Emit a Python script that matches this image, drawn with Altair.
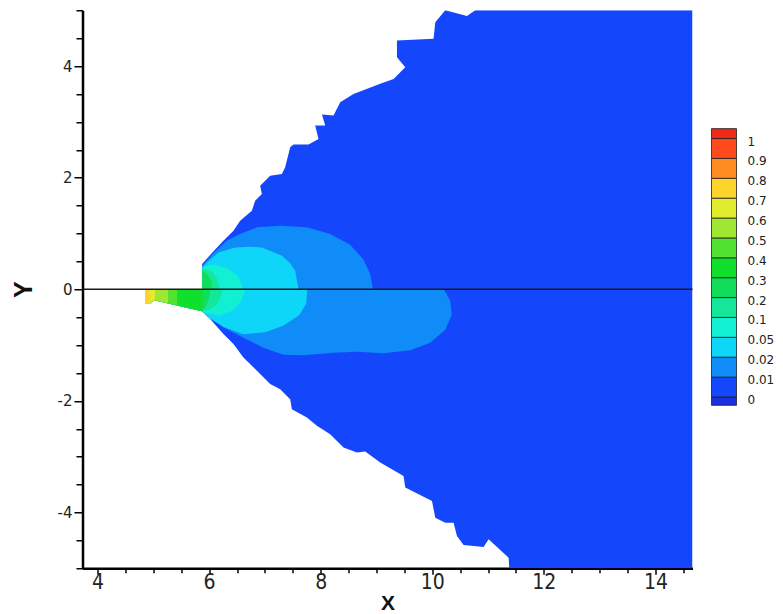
import altair as alt
import pandas as pd

# ---------------- axis ticks ----------------
X_TICKS = [4.0, 4.5, 5.0, 5.5, 6.0, 6.5, 7.0, 7.5, 8.0, 8.5, 9.0, 9.5, 10.0, 10.5,
           11.0, 11.5, 12.0, 12.5, 13.0, 13.5, 14.0, 14.5]
Y_TICKS = [-5.0, -4.5, -4.0, -3.5, -3.0, -2.5, -2.0, -1.5, -1.0, -0.5, 0.0,
           0.5, 1.0, 1.5, 2.0, 2.5, 3.0, 3.5, 4.0, 4.5, 5.0]

# ---------------- contour bands (colour per band) ----------------
BIN_LO = [-0.42, 0, 1, 2, 3, 4, 5, 6, 7, 8, 9, 10, 11, 12, 13]
BIN_HI = [0, 1, 2, 3, 4, 5, 6, 7, 8, 9, 10, 11, 12, 13, 13.5]
BIN_COLORS = ["#1a30e0", "#1446fb", "#0f8cf8", "#0ed6f8", "#12f0d4", "#14e69a",
              "#12dc5c", "#10e02c", "#52e232", "#a2e634", "#e2ec2e", "#fcd42c",
              "#ff8c22", "#ff4a1e", "#f02818"]
LEG_POS = [0, 1, 2, 3, 4, 5, 6, 7, 8, 9, 10, 11, 12, 13]
LEG_LABELS = ["0", "0.01", "0.02", "0.05", "0.1", "0.2", "0.3", "0.4", "0.5",
              "0.6", "0.7", "0.8", "0.9", "1"]

# ---------------- upper half (y > 0) ----------------
UP_ENV_X = [5.874, 5.874, 6.054, 6.256, 6.436, 6.556, 6.766, 6.825, 6.945, 6.915,
            7.094, 7.304, 7.363, 7.453, 7.512, 7.781, 7.961, 7.901, 8.081, 8.022,
            8.230, 8.350, 8.588, 9.067, 9.306, 9.516, 9.367, 9.367, 10.023, 10.054,
            10.233, 10.622, 10.771, 14.665, 14.665]
UP_ENV_Y = [0, 0.452, 0.655, 0.870, 1.049, 1.229, 1.408, 1.587, 1.708, 1.857,
            2.036, 2.066, 2.185, 2.543, 2.592, 2.592, 2.694, 2.933, 2.933, 3.130,
            3.112, 3.351, 3.501, 3.681, 3.770, 3.978, 4.158, 4.457, 4.488, 4.786,
            5.0, 4.897, 5.0, 5.0, 0]

UP_L1_X = [5.874, 5.874, 6.054, 6.317, 6.556, 6.856, 7.274, 7.752, 8.170, 8.529,
           8.768, 8.888, 8.936]
UP_L1_Y = [0, 0.422, 0.628, 0.870, 0.990, 1.109, 1.139, 1.109, 0.990, 0.798,
           0.529, 0.273, 0]

UP_L2_X = [5.874, 5.874, 5.959, 6.167, 6.466, 6.700, 6.945, 7.304, 7.450, 7.543, 7.602]
UP_L2_Y = [0, 0.386, 0.481, 0.660, 0.750, 0.762, 0.750, 0.601, 0.470, 0.332, 0]

UP_L3_X = [5.874, 5.874, 6.000, 6.108, 6.346, 6.526, 6.615]
UP_L3_Y = [0, 0.395, 0.430, 0.439, 0.368, 0.224, 0]

UP_L4_X = [5.874, 5.874, 6.036, 6.143, 6.197]
UP_L4_Y = [0, 0.377, 0.332, 0.188, 0]

UP_L5_X = [5.874, 5.874, 5.964, 6.036, 6.054]
UP_L5_Y = [0, 0.332, 0.278, 0.152, 0]

# ---------------- lower half (y < 0) ----------------
LO_ENV_X = [4.852, 4.852, 4.942, 5.001, 5.874, 6.018, 6.256, 6.436, 6.615, 6.825,
            7.094, 7.274, 7.453, 7.483, 7.752, 7.932, 8.170, 8.409, 8.649, 8.798,
            9.067, 9.485, 9.516, 9.995, 10.054, 10.233, 10.382, 10.443, 10.561, 10.920,
            11.010, 11.369, 11.381, 14.665, 14.665]
LO_ENV_Y = [0, -0.260, -0.260, -0.194, -0.395, -0.535, -0.804, -0.983, -1.223, -1.431,
            -1.700, -1.790, -1.970, -2.149, -2.300, -2.448, -2.597, -2.838, -2.927, -2.909,
            -3.107, -3.345, -3.555, -3.794, -4.093, -4.183, -4.183, -4.422, -4.583, -4.619,
            -4.481, -4.811, -5.0, -5.0, 0]

LO_L1_X = [4.852, 4.852, 4.942, 5.001, 5.874, 6.256, 6.615, 6.974, 7.333, 7.691,
           8.230, 8.655, 9.126, 9.605, 9.964, 10.233, 10.350, 10.323, 10.206]
LO_L1_Y = [0, -0.260, -0.260, -0.194, -0.395, -0.685, -0.870, -1.049, -1.175, -1.184,
           -1.139, -1.121, -1.148, -1.094, -0.960, -0.726, -0.457, -0.206, 0]

LO_L2_X = [4.852, 4.852, 4.942, 5.001, 5.874, 5.964, 6.251, 6.610, 7.004, 7.327,
           7.614, 7.740, 7.758]
LO_L2_Y = [0, -0.260, -0.260, -0.194, -0.395, -0.493, -0.673, -0.807, -0.771, -0.655,
           -0.466, -0.260, 0]

LO_L3_X = [4.852, 4.852, 4.942, 5.001, 5.874, 5.928, 6.179, 6.413, 6.574, 6.646]
LO_L3_Y = [0, -0.260, -0.260, -0.194, -0.395, -0.422, -0.475, -0.386, -0.224, 0]

LO_L4_X = [4.852, 4.852, 4.942, 5.001, 5.874, 6.018, 6.143, 6.224, 6.233]
LO_L4_Y = [0, -0.260, -0.260, -0.194, -0.395, -0.359, -0.269, -0.090, 0]

LO_L5_X = [4.852, 4.852, 4.942, 5.001, 5.874, 5.946, 6.000, 6.018]
LO_L5_Y = [0, -0.260, -0.260, -0.194, -0.395, -0.296, -0.152, 0]

LO_L6_X = [4.852, 4.852, 4.942, 5.001, 5.857, 5.883, 5.883]
LO_L6_Y = [0, -0.260, -0.260, -0.194, -0.389, -0.206, 0]

LO_L7_X = [4.852, 4.852, 4.942, 5.001, 5.426, 5.426]
LO_L7_Y = [0, -0.260, -0.260, -0.194, -0.287, 0]

LO_L8_X = [4.852, 4.852, 4.942, 5.001, 5.265, 5.265]
LO_L8_Y = [0, -0.260, -0.260, -0.194, -0.251, 0]

LO_L9_X = [4.852, 4.852, 4.942, 5.001, 5.031, 5.031]
LO_L9_Y = [0, -0.260, -0.260, -0.194, -0.201, 0]

LO_L10_X = [4.852, 4.852, 4.942, 4.942]
LO_L10_Y = [0, -0.260, -0.260, 0]

# drawing order: outer (low) levels first, inner (high) levels on top
POLYGONS = [
    (UP_ENV_X, UP_ENV_Y, 1), (LO_ENV_X, LO_ENV_Y, 1),
    (UP_L1_X, UP_L1_Y, 2), (LO_L1_X, LO_L1_Y, 2),
    (UP_L2_X, UP_L2_Y, 3), (LO_L2_X, LO_L2_Y, 3),
    (UP_L3_X, UP_L3_Y, 4), (LO_L3_X, LO_L3_Y, 4),
    (UP_L4_X, UP_L4_Y, 5), (LO_L4_X, LO_L4_Y, 5),
    (UP_L5_X, UP_L5_Y, 6), (LO_L5_X, LO_L5_Y, 6),
    (LO_L6_X, LO_L6_Y, 7), (LO_L7_X, LO_L7_Y, 8),
    (LO_L8_X, LO_L8_Y, 9), (LO_L9_X, LO_L9_Y, 10),
    (LO_L10_X, LO_L10_Y, 11),
]

MAJOR = "datum.value % 2 === 0"

x_axis = alt.Axis(
    values=X_TICKS, title="X", grid=False,
    labelExpr=MAJOR + " ? '' + datum.value : ''",
    tickSize={"condition": {"test": MAJOR, "value": 6}, "value": 4.5},
    tickWidth=1.5, tickColor="black", domainColor="black", domainWidth=2.5,
    labelFont="Liberation Sans Narrow, DejaVu Sans Condensed, sans-serif",
    labelFontSize={"condition": {"test": MAJOR, "value": 21}, "value": 0},
    labelColor="#222222", labelPadding=-3,
    labelFlush=False, labelOverlap=False,
    titleFont="Liberation Sans", titleFontSize=21, titleFontWeight="bold",
    titleColor="#111111", titleY=41.5, titleBaseline="alphabetic",
)
y_axis = alt.Axis(
    values=Y_TICKS, title="Y", grid=False,
    labelExpr=MAJOR + " ? '' + datum.value : ''",
    tickSize={"condition": {"test": MAJOR, "value": 8.5}, "value": 6.5},
    tickWidth=1.5, tickColor="black", domainColor="black", domainWidth=2.5,
    labelFont="DejaVu Sans",
    labelFontSize={"condition": {"test": MAJOR, "value": 15}, "value": 0},
    labelColor="#222222", labelPadding=2,
    labelOverlap=False,
    titleFont="Liberation Sans", titleFontSize=25, titleFontWeight="bold",
    titleColor="#111111", titleAngle=270, titleX=-59, titleY=279,
    titleAlign="center", titleBaseline="middle",
)

X_ENC = alt.X("x:Q", scale=alt.Scale(domain=[3.73, 14.665], nice=False, zero=False), axis=x_axis)
Y_ENC = alt.Y("y:Q", scale=alt.Scale(domain=[-5, 5], nice=False, zero=False), axis=y_axis)

layers = []
for xs, ys, ci in POLYGONS:
    df = pd.DataFrame({"x": xs, "y": ys, "i": list(range(len(xs)))})
    layers.append(
        alt.Chart(df).mark_line(filled=True, color=BIN_COLORS[ci], clip=True).encode(
            x=X_ENC, y=Y_ENC, order=alt.Order("i:Q")
        )
    )

zero_df = pd.DataFrame({"y": [0.0]})
layers.append(
    alt.Chart(zero_df).mark_rule(color="#1a1a1a", strokeWidth=1.5).encode(y=Y_ENC)
)

main = alt.layer(*layers).properties(width=610, height=558)

# ---------------- colour bar legend ----------------
leg_df = pd.DataFrame({"lo": BIN_LO, "hi": BIN_HI, "c": BIN_COLORS,
                       "x0": [0] * len(BIN_LO), "x1": [1] * len(BIN_LO)})
LEG_Y = alt.Scale(domain=[-8.618, 19.455], nice=False, zero=False)
LEG_X = alt.Scale(domain=[0, 1], nice=False, zero=False)

leg_rect = alt.Chart(leg_df).mark_rect(stroke="#1e1e1e", strokeWidth=0.8).encode(
    x=alt.X("x0:Q", scale=LEG_X, axis=None),
    x2="x1:Q",
    y=alt.Y("lo:Q", scale=LEG_Y, axis=None),
    y2="hi:Q",
    color=alt.Color("c:N", scale=None),
)
txt_df = pd.DataFrame({"j": LEG_POS, "t": LEG_LABELS, "x": [1] * len(LEG_POS)})
leg_txt = alt.Chart(txt_df).mark_text(
    align="left", baseline="middle", dx=11, dy=3,
    font="DejaVu Sans", fontSize=12, color="#222222",
).encode(
    x=alt.X("x:Q", scale=LEG_X, axis=None),
    y=alt.Y("j:Q", scale=LEG_Y, axis=None),
    text="t:N",
)
legend = alt.layer(leg_rect, leg_txt).properties(width=25, height=558)

chart = alt.hconcat(main, legend, spacing=19, bounds="flush").properties(
    padding={"left": 3.5, "top": 1.25, "right": 0, "bottom": 0}
).configure_view(stroke=None)

chart.save("out.html", embed_options={"renderer": "svg", "actions": False})
